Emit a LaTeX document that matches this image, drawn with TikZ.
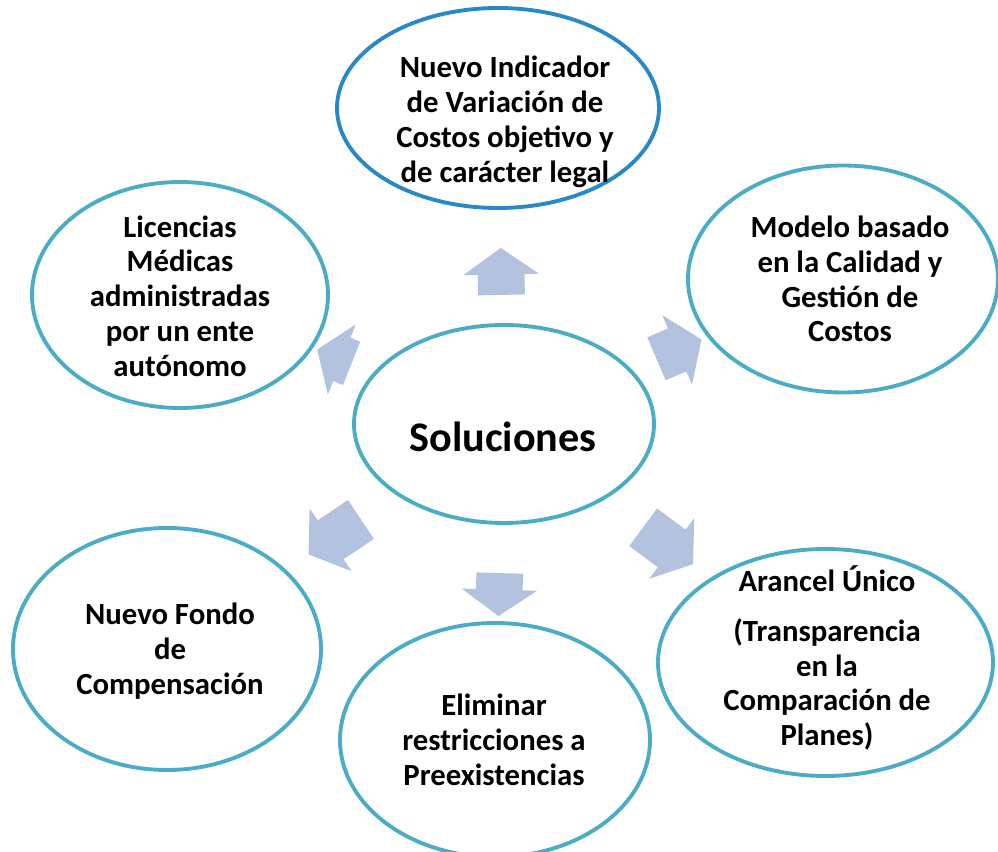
\documentclass[tikz,border=0pt]{standalone}
\usepackage{fontspec}
\setmainfont{Carlito}
\usepackage{tikz}
\usetikzlibrary{shapes,arrows,calc,positioning}
\definecolor{ovalcol}{RGB}{75,172,198}
\definecolor{topcol}{RGB}{41,137,200}
\definecolor{arrcol}{RGB}{179,194,222}
\tikzset{
	oval/.style={ellipse, draw=ovalcol, line width=2.2pt, inner sep=0pt},
	txt/.style={align=center, font=\bfseries\fontsize{17.5}{19.8}\selectfont},
	blk/.style={single arrow, fill=arrcol, draw=none, inner xsep=0pt, inner ysep=0.46cm,
		minimum width=1.5cm, single arrow head extend=0.29cm,
		single arrow tip angle=110, sloped, allow upside down}
}

\begin{document}
\begin{tikzpicture}
\useasboundingbox (-10.08,-8.56) rectangle (9.88,8.48);
% ovals
\node[oval, minimum width=6cm, minimum height=3.96cm] (sol) at (0,0) {};
\node[oval, draw=topcol, minimum width=6.44cm, minimum height=4cm] (indic) at (-0.12,6.32) {};
\node[oval, minimum width=6.2cm, minimum height=4.54cm] (modelo) at (6.78,2.9) {};
\node[oval, minimum width=5.92cm, minimum height=4.52cm] (licen) at (-6.48,2.58) {};
\node[oval, minimum width=6.16cm, minimum height=4.84cm] (fondo) at (-6.74,-4.5) {};
\node[oval, minimum width=6.2cm, minimum height=4.68cm] (elim) at (-0.18,-6.32) {};
\node[oval, minimum width=6.7cm, minimum height=4.54cm] (aran) at (6.43,-4.77) {};
% texts
\node[txt, font=\bfseries\fontsize{24}{28}\selectfont] (sol-t) at (-0.02,-0.26) {Soluciones};
\node[txt] (indic-t) at (0.02,6.04) {Nuevo Indicador\\de Variación de\\Costos objetivo y\\de carácter legal};
\node[txt] (modelo-t) at (6.92,2.9) {Modelo basado\\en la Calidad y\\Gestión de\\Costos};
\node[txt] (licen-t) at (-6.48,2.56) {Licencias\\Médicas\\administradas\\por un ente\\autónomo};
\node[txt] (fondo-t) at (-6.68,-4.54) {Nuevo Fondo\\de\\Compensación};
\node[txt] (elim-t) at (-0.2,-6.32) {Eliminar\\restricciones a\\Preexistencias};
\node[txt] (aran-t) at (6.46,-4.68) {Arancel Único\\[0.3cm](Transparencia\\en la\\Comparación de\\Planes)};
% block arrows
\path (sol.center) -- (indic.center) node[blk, pos=0.457, minimum height=0.94cm] (a1) {};
\path (sol.center) -- (modelo.center) node[blk, pos=0.494, minimum height=0.98cm] (a2) {};
\path (sol.center) -- (aran.center) node[blk, pos=0.49, minimum height=1.24cm] (a3) {};
\path (sol.center) -- (elim.center) node[blk, pos=0.514, minimum height=0.86cm] (a4) {};
\path (sol.center) -- (fondo.center) node[blk, pos=0.482, minimum height=1.26cm] (a5) {};
\path (sol.center) -- (licen.center) node[blk, pos=0.5, minimum height=0.74cm] (a6) {};
\end{tikzpicture}
\end{document}
